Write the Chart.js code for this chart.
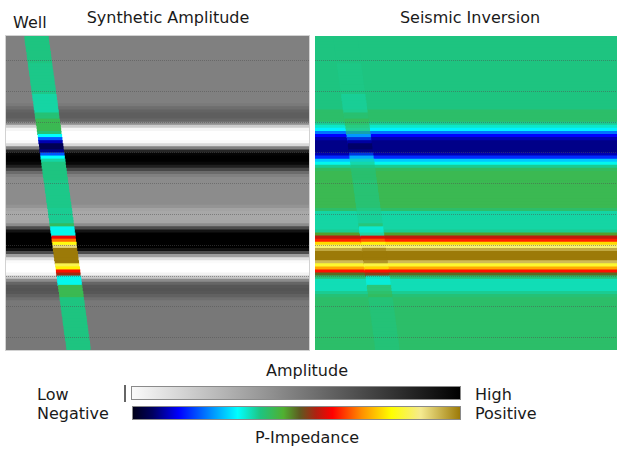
<!DOCTYPE html>
<html>
<head>
<meta charset="utf-8">
<script src="https://cdn.jsdelivr.net/npm/chart.js@4.4.1/dist/chart.umd.min.js"></script>
<style>
  body { margin: 0; background: #fff; font-family: "DejaVu Sans", sans-serif; color: #1a1a1a; }
  #page { position: relative; width: 617px; height: 451px; overflow: hidden; }
  .lbl { position: absolute; font-size: 16px; line-height: 16px; white-space: nowrap; }
  .ctr { transform: translateX(-50%); }
  #left { position: absolute; left: 5px; top: 35px; border: 1px solid #d2d2d2; }
  #right { position: absolute; left: 315px; top: 36px; }
  canvas { display: block; }
  .bar { position: absolute; box-sizing: border-box; border: 1px solid #8a8a8a; }
  #tick { position: absolute; left: 124px; top: 385px; width: 2px; height: 17px; background: #666; }
</style>
</head>
<body>
<div id="page">
  <div class="lbl" style="left:13px;top:14.5px">Well</div>
  <div class="lbl ctr" style="left:168px;top:9.5px">Synthetic Amplitude</div>
  <div class="lbl ctr" style="left:470px;top:9.5px">Seismic Inversion</div>

  <div id="left"><canvas id="amp" width="303" height="314"></canvas></div>
  <div id="right"><canvas id="inv" width="302" height="314"></canvas></div>

  <div class="lbl ctr" style="left:307px;top:362.5px">Amplitude</div>
  <div class="lbl" style="left:37px;top:386.5px">Low</div>
  <div class="lbl" style="left:37px;top:405.5px">Negative</div>
  <div class="lbl" style="left:475px;top:386.5px">High</div>
  <div class="lbl" style="left:475px;top:405.5px">Positive</div>
  <div id="tick"></div>
  <div class="bar" id="ampBar" style="left:131px;top:386px;width:330px;height:14px"></div>
  <div class="bar" id="impBar" style="left:132px;top:406px;width:329px;height:14px"></div>
  <div class="lbl ctr" style="left:307px;top:429.5px">P-Impedance</div>
</div>

<script>
// time axis (ms), 2 ms samples
const START_TIME = 984;
const END_TIME = 1188;
const SAMPLE_RATE = 2;
const gridTimes = [1000, 1020, 1040, 1060, 1080, 1100, 1120, 1140, 1160, 1180];

// synthetic amplitude, 0 = low (white) .. 1 = high (black)
const amplitude = [
  0.5, 0.5, 0.5, 0.5, 0.5, 0.5, 0.5, 0.5, 0.5, 0.5, 0.5, 0.5,
  0.5, 0.5, 0.5, 0.5, 0.5, 0.5, 0.5, 0.5, 0.5, 0.5, 0.52, 0.57,
  0.61, 0.63, 0.63, 0.6, 0.45, 0.2, 0.04, 0, 0, 0, 0.02, 0.15,
  0.5, 0.85, 0.98, 1, 1, 0.97, 0.88, 0.72, 0.58, 0.5, 0.46, 0.45,
  0.45, 0.45, 0.45, 0.45, 0.45, 0.45, 0.45, 0.42, 0.36, 0.34, 0.34, 0.34,
  0.35, 0.45, 0.7, 0.92, 1, 1, 1, 1, 1, 0.93, 0.7, 0.38,
  0.12, 0.02, 0, 0, 0, 0.05, 0.22, 0.45, 0.6, 0.66, 0.67, 0.66,
  0.62, 0.57, 0.53, 0.53, 0.53, 0.53, 0.53, 0.53, 0.53, 0.53, 0.53, 0.53,
  0.53, 0.53, 0.53, 0.53, 0.53, 0.53
];

// inverted P-impedance, 0 = negative .. 1 = positive
const inversion = [
  0.39, 0.39, 0.39, 0.39, 0.39, 0.39, 0.39, 0.39, 0.39, 0.39, 0.39, 0.39,
  0.39, 0.39, 0.39, 0.39, 0.39, 0.39, 0.39, 0.39, 0.39, 0.39, 0.39, 0.39,
  0.41, 0.41, 0.41, 0.41, 0.38, 0.35, 0.31, 0.22, 0.14, 0.1, 0.08, 0.08,
  0.08, 0.08, 0.1, 0.17, 0.28, 0.33, 0.38, 0.42, 0.43, 0.43, 0.43, 0.43,
  0.43, 0.43, 0.43, 0.43, 0.43, 0.43, 0.43, 0.43, 0.41, 0.37, 0.37, 0.37,
  0.37, 0.37, 0.37, 0.38, 0.47, 0.57, 0.63, 0.76, 0.86, 0.95, 1, 1,
  1, 0.93, 0.82, 0.72, 0.62, 0.5, 0.4, 0.36, 0.36, 0.36, 0.36, 0.38,
  0.4, 0.41, 0.41, 0.41, 0.41, 0.41, 0.41, 0.41, 0.41, 0.41, 0.41, 0.41,
  0.41, 0.41, 0.41, 0.41, 0.41, 0.41
];

// P-impedance log along the well
const wellLog = [
  0.39, 0.39, 0.39, 0.39, 0.39, 0.39, 0.39, 0.39, 0.39, 0.385, 0.385, 0.385,
  0.385, 0.385, 0.385, 0.385, 0.385, 0.385, 0.385, 0.37, 0.37, 0.37, 0.37, 0.37,
  0.37, 0.4, 0.4, 0.43, 0.43, 0.43, 0.43, 0.4, 0.32, 0.2, 0.1, 0.05,
  0.05, 0.08, 0.2, 0.32, 0.37, 0.39, 0.39, 0.39, 0.39, 0.39, 0.39, 0.385,
  0.385, 0.385, 0.385, 0.385, 0.385, 0.385, 0.385, 0.385, 0.38, 0.38, 0.38, 0.38,
  0.38, 0.42, 0.33, 0.33, 0.33, 0.6, 0.68, 0.8, 0.9, 1, 1, 1,
  1, 1, 0.84, 0.78, 0.62, 0.55, 0.33, 0.33, 0.33, 0.43, 0.43, 0.43,
  0.43, 0.39, 0.39, 0.39, 0.39, 0.39, 0.39, 0.39, 0.39, 0.39, 0.39, 0.39,
  0.39, 0.39, 0.39, 0.39, 0.39, 0.39
];

// trace number of the well centre at each sample (deviated well)
const wellTrace = [
  10.1, 10.2, 10.3, 10.5, 10.6, 10.8, 10.9, 11.0, 11.2, 11.3, 11.4, 11.6,
  11.7, 11.9, 12.0, 12.1, 12.3, 12.4, 12.5, 12.7, 12.8, 13.0, 13.1, 13.2,
  13.4, 13.5, 13.6, 13.8, 13.9, 14.1, 14.2, 14.3, 14.5, 14.6, 14.7, 14.9,
  15.0, 15.1, 15.3, 15.4, 15.6, 15.7, 15.8, 16.0, 16.1, 16.2, 16.4, 16.5,
  16.7, 16.8, 16.9, 17.1, 17.2, 17.3, 17.5, 17.6, 17.8, 17.9, 18.0, 18.2,
  18.3, 18.4, 18.6, 18.7, 18.9, 19.0, 19.1, 19.3, 19.4, 19.5, 19.7, 19.8,
  19.9, 20.1, 20.2, 20.4, 20.5, 20.6, 20.8, 20.9, 21.0, 21.2, 21.3, 21.5,
  21.6, 21.7, 21.9, 22.0, 22.1, 22.3, 22.4, 22.6, 22.7, 22.8, 23.0, 23.1,
  23.2, 23.4, 23.5, 23.7, 23.8, 23.9
];
const WELL_HALF_WIDTH = 3.85;
const TRACE_MIN = 0;
const TRACE_MAX = 100;

// P-impedance colour scale
const impedanceStops = [
  [0.00, '#000018'], [0.06, '#000060'], [0.14, '#0000ff'], [0.24, '#0090ff'],
  [0.32, '#00ffff'], [0.39, '#1ec480'], [0.46, '#50b030'], [0.51, '#5e5a20'],
  [0.56, '#b02010'], [0.61, '#ff0000'], [0.70, '#ff9000'], [0.79, '#ffff00'],
  [0.88, '#f5ea90'], [1.00, '#9c7a08']
];

function hexRgb(h) {
  return [1, 3, 5].map(k => parseInt(h.slice(k, k + 2), 16));
}

function impedanceRgb(v) {
  for (let k = 1; k < impedanceStops.length; k++) {
    const [p1, c1] = impedanceStops[k];
    if (v <= p1) {
      const [p0, c0] = impedanceStops[k - 1];
      const t = (v - p0) / (p1 - p0);
      const a = hexRgb(c0), b = hexRgb(c1);
      return a.map((x, j) => x + (b[j] - x) * t);
    }
  }
  return hexRgb(impedanceStops[impedanceStops.length - 1][1]);
}

const rgb = c => `rgb(${c.map(Math.round).join(',')})`;
const impedanceColor = v => rgb(impedanceRgb(v));
const amplitudeColor = a => { const g = 255 * (1 - a); return rgb([g, g, g]); };

const sampleTimes = amplitude.map((_, i) => START_TIME + SAMPLE_RATE * (i + 0.5));
const bandBars = sampleTimes.map(t => ({ y: t, x: [TRACE_MIN, TRACE_MAX] }));
const wellBars = sampleTimes.map((t, i) => ({
  y: t, x: [wellTrace[i] - WELL_HALF_WIDTH, wellTrace[i] + WELL_HALF_WIDTH]
}));

// well log shown faintly over the inversion
const wellOverlay = wellLog.map((w, i) => {
  const a = impedanceRgb(w), b = impedanceRgb(inversion[i]);
  return rgb(a.map((x, j) => x * 0.6 + b[j] * 0.4));
});

function panel(canvasId, background, well) {
  return new Chart(document.getElementById(canvasId), {
    type: 'bar',
    data: {
      datasets: [
        { data: wellBars, backgroundColor: well, grouped: false, order: 0 },
        { data: bandBars, backgroundColor: background, grouped: false, order: 1 }
      ]
    },
    options: {
      responsive: false,
      animation: false,
      indexAxis: 'y',
      layout: { padding: 0 },
      events: [],
      datasets: {
        bar: { barPercentage: 1, categoryPercentage: 1, borderWidth: 0, inflateAmount: 0.5 }
      },
      plugins: { legend: { display: false }, tooltip: { enabled: false } },
      scales: {
        x: { type: 'linear', min: TRACE_MIN, max: TRACE_MAX, display: false },
        y: {
          type: 'linear', reverse: true, min: START_TIME, max: END_TIME, z: 1,
          offset: false,
          afterBuildTicks: s => { s.ticks = gridTimes.map(v => ({ value: v })); },
          ticks: { display: false },
          border: { display: false, dash: [1, 1] },
          grid: { z: 1, offset: false, color: 'rgba(80,80,80,0.5)', lineWidth: 1, drawTicks: false }
        }
      }
    }
  });
}

panel('amp', amplitude.map(amplitudeColor), wellLog.map(impedanceColor));
panel('inv', inversion.map(impedanceColor), wellOverlay);

// colour bars of the two scales
document.getElementById('ampBar').style.background =
  'linear-gradient(to right, ' + amplitudeColor(0.02) + ', ' + amplitudeColor(1) + ')';
document.getElementById('impBar').style.background =
  'linear-gradient(to right, ' +
  impedanceStops.map(([p, c]) => c + ' ' + (p * 100) + '%').join(', ') + ')';
</script>
</body>
</html>
